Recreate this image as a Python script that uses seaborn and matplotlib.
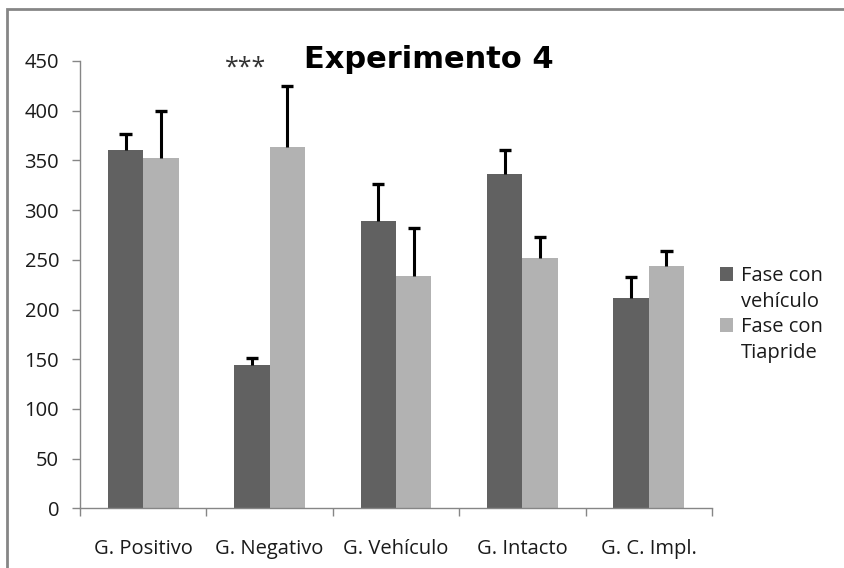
import matplotlib
matplotlib.use("Agg")
import matplotlib.pyplot as plt
from matplotlib.patches import Rectangle, Patch
from matplotlib.ticker import FixedLocator
import numpy as np
import pandas as pd
import seaborn as sns

# Group labels and phase names
groups = ["G. Positivo", "G. Negativo", "G. Vehículo", "G. Intacto", "G. C. Impl."]
phases = ["Fase con vehículo", "Fase con Tiapride"]

# Mean values per group for each phase
vehiculo_means = [360, 144, 289, 336, 212]
tiapride_means = [352, 363, 234, 252, 244]

# Upper error (SEM) per group for each phase
vehiculo_err = [17, 7, 37, 24, 21]
tiapride_err = [48, 62, 48, 21, 15]

y_ticks = [0, 50, 100, 150, 200, 250, 300, 350, 400, 450]

df = pd.DataFrame({
    "grupo": groups * 2,
    "fase": [phases[0]] * len(groups) + [phases[1]] * len(groups),
    "valor": vehiculo_means + tiapride_means,
})

sns.set_theme(style="white")
plt.rcParams["font.family"] = ["Open Sans", "DejaVu Sans"]

fig = plt.figure(figsize=(8.44, 5.68), dpi=100)
ax = fig.add_axes([80 / 844, 1 - 508.3 / 568, 632 / 844, (508.3 - 61) / 568])

dark, light = "#616161", "#b2b2b2"
palette = {phases[0]: dark, phases[1]: light}
sns.barplot(data=df, x="grupo", y="valor", hue="fase", order=groups,
            hue_order=phases, palette=palette, width=0.56, errorbar=None,
            saturation=1, linewidth=0, legend=False, ax=ax)

# Upper-only error bars with a cap, on the bar centres seaborn produced
errs = {phases[0]: vehiculo_err, phases[1]: tiapride_err}
means = {phases[0]: vehiculo_means, phases[1]: tiapride_means}
cap_half = 0.048
for container, phase in zip(ax.containers, phases):
    xs = np.array([p.get_x() + p.get_width() / 2 for p in container.patches])
    lo = np.array(means[phase], dtype=float)
    hi = lo + np.array(errs[phase])
    ax.vlines(xs, lo, hi, colors="black", linewidth=2.2, zorder=3)
    ax.hlines(hi, xs - cap_half, xs + cap_half, colors="black",
              linewidth=2.4, zorder=3)

ax.set_ylim(0, 450)
ax.set_xlim(-0.5, len(groups) - 0.5)
ax.set_yticks(y_ticks)
ax.set_xlabel("")
ax.set_ylabel("")

# Spines and ticks
for side in ["top", "right"]:
    ax.spines[side].set_visible(False)
for side in ["left", "bottom"]:
    ax.spines[side].set_color("#868686")
    ax.spines[side].set_linewidth(1.0)

ax.tick_params(axis="y", which="major", length=6, width=1.0, color="#868686",
               direction="out", left=True, pad=9, labelsize=14.5,
               labelcolor="#1a1a1a")
ax.tick_params(axis="x", which="major", length=0, pad=22, labelsize=14.5,
               labelcolor="#1a1a1a")
ax.xaxis.set_minor_locator(FixedLocator(np.arange(-0.5, len(groups), 1.0)))
ax.tick_params(axis="x", which="minor", length=6, width=1.0, color="#868686",
               direction="out", bottom=True)

# Title and significance marker
fig.text(429 / 844, 1 - 68 / 568, "Experimento 4", ha="center", va="baseline",
         fontsize=22, fontweight="bold", color="black",
         family=["DejaVu Sans"])
ax.text(0.81, 443, "***", ha="center", va="center", fontsize=18,
        color="#333333")

# Legend on the right: colour square beside the first line of each entry
blank = Patch(facecolor="none", edgecolor="none")
handles = [Patch(facecolor=dark, edgecolor="none"), blank,
           Patch(facecolor=light, edgecolor="none"), blank]
labels = ["Fase con", "vehículo", "Fase con", "Tiapride"]
leg = ax.legend(handles, labels, loc="upper left",
                bbox_to_anchor=(720 / 844, 1 - 266 / 568),
                bbox_transform=fig.transFigure, frameon=False, fontsize=14.5,
                handlelength=0.65, handleheight=0.65, handletextpad=0.4,
                labelspacing=0.28, borderpad=0, borderaxespad=0)
for t in leg.get_texts():
    t.set_color("#1a1a1a")

# Outer frame
fig.patches.append(Rectangle((7 / 844, -0.1), 1.2, 1 - 9 / 568 + 0.1,
                             transform=fig.transFigure, fill=False,
                             edgecolor="#868686", linewidth=2.0))

fig.savefig("out.png", dpi=100)
